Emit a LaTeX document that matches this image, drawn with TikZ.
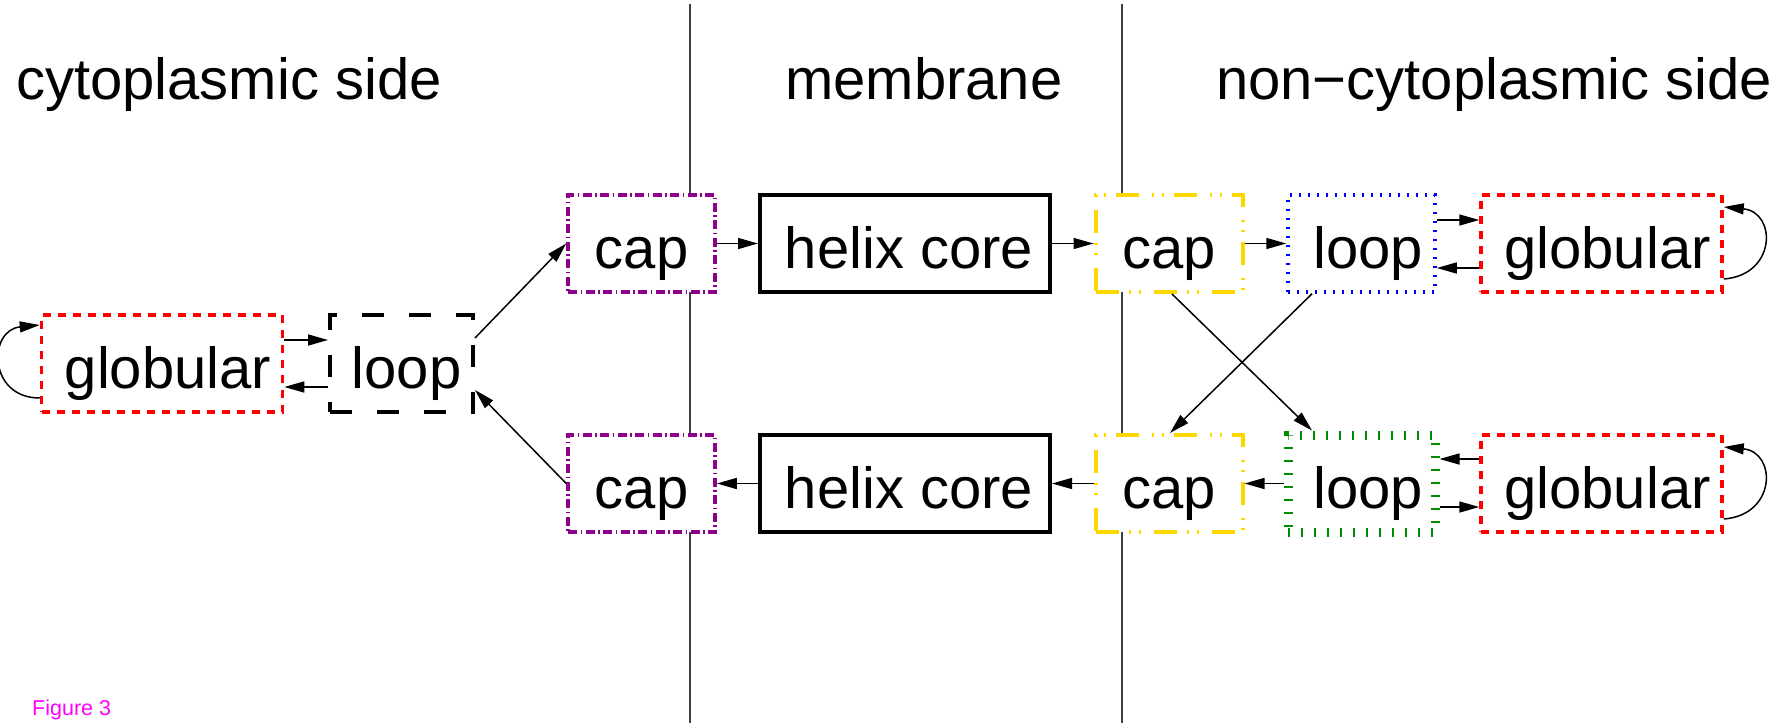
\documentclass[tikz,border=0pt]{standalone}
\usepackage{fontspec}
\setmainfont{Liberation Sans}
\usetikzlibrary{arrows.meta}
\definecolor{cpurple}{RGB}{140,0,140}
\definecolor{cgold}{RGB}{255,215,0}
\definecolor{cgreen}{RGB}{0,140,0}
\definecolor{cred}{RGB}{255,0,0}
\definecolor{cblue}{RGB}{0,0,255}
\definecolor{cmag}{RGB}{255,0,255}
\begin{document}
\begin{tikzpicture}[x=1pt,y=-1pt,
  bigfont/.style={font=\fontsize{58pt}{62pt}\selectfont},
  box/.style={rectangle, fill=white, inner sep=0pt, minimum height=97pt,
    text height=50pt, text depth=0pt, bigfont},
  smallbox/.style={box, minimum width=147pt},
  globbox/.style={box, minimum width=241pt, draw=cred, line width=3.5pt,
    dash pattern=on 8pt off 7pt},
  blackloop/.style={smallbox, minimum width=143pt, draw=black, line width=4pt,
    dash pattern=on 22pt off 25pt},
  purplecap/.style={smallbox, draw=cpurple, line width=3.5pt,
    dash pattern=on 9pt off 3.5pt on 1.5pt off 3.5pt},
  goldcap/.style={smallbox, draw=cgold, line width=4pt,
    dash pattern=on 23pt off 10pt on 2pt off 8pt on 2pt off 13pt},
  blueloop/.style={smallbox, draw=cblue, line width=3.5pt,
    dash pattern=on 2pt off 7pt},
  greenloop/.style={smallbox, draw=cgreen, line width=9pt,
    dash pattern=on 2pt off 11pt},
  helixbox/.style={box, minimum width=290pt, draw=black, line width=4pt},
  header/.style={anchor=base west, inner sep=0pt, bigfont},
  memline/.style={line width=1.5pt, black!75},
  arr/.style={line width=1.5pt, black, -{Triangle[length=20pt,width=11pt]}}
]
\useasboundingbox (0,0) rectangle (1779,726);

% membrane boundaries
\coordinate (m1t) at (690,4);
\coordinate (m1b) at (690,723);
\coordinate (m2t) at (1122,4);
\coordinate (m2b) at (1122,723);
\draw[memline] (m1t) -- (m1b);
\draw[memline] (m2t) -- (m2b);

% headers
\node[header] (h1) at (16,99) {cytoplasmic side};
\node[header] (h2) at (785,99) {membrane};
\node[header] (h3) at (1216,99) {non\symbol{"2212}cytoplasmic side};

% left side
\node[globbox] (lg) at (162,363.5) {\hspace{12pt}globular};
\node[blackloop] (ll) at (401.5,363.5) {\hspace{10pt}loop};

% top row
\node[purplecap] (tc1) at (641.5,243.5) {cap};
\node[helixbox] (th) at (905,243.5) {\hspace{8pt}helix core};
\node[goldcap] (tc2) at (1169,243.5) {cap};
\node[blueloop] (tl) at (1361.5,243.5) {\hspace{13pt}loop};
\node[globbox] (tg) at (1601.5,243.5) {\hspace{12pt}globular};

% bottom row
\node[purplecap] (bc1) at (641.5,483.5) {cap};
\node[helixbox] (bh) at (905,483.5) {\hspace{8pt}helix core};
\node[goldcap] (bc2) at (1169,483.5) {cap};
\node[greenloop] (bl) at (1361.5,483.5) {\hspace{13pt}loop};
\node[globbox] (bg) at (1601.5,483.5) {\hspace{12pt}globular};

% left connectors
\draw[arr] ([yshift=-34.5pt]lg.west) .. controls +(-52,0) and +(-52,5) .. ([yshift=38.5pt]lg.west);
\draw[arr] ([yshift=23.5pt]lg.east) -- ([yshift=23.5pt]ll.west);
\draw[arr] ([yshift=-23.5pt]ll.west) -- ([yshift=-23.5pt]lg.east);
\draw[arr] ([yshift=25.5pt]ll.east) -- (tc1.west);
\draw[arr] (bc1.west) -- ([yshift=-26.5pt]ll.east);

% top row connectors
\draw[arr] (tc1.east) -- (th.west);
\draw[arr] (th.east) -- (tc2.west);
\draw[arr] (tc2.east) -- (tl.west);
\draw[arr] ([yshift=23.5pt]tl.east) -- ([yshift=23.5pt]tg.west);
\draw[arr] ([yshift=-24.5pt]tg.west) -- ([yshift=-24.5pt]tl.east);
\draw[arr] ([yshift=-35.5pt]tg.east) .. controls +(53,-4) and +(53,5) .. ([yshift=36.5pt]tg.east);

% crossing connectors
\draw[arr] ([xshift=3pt]tc2.south) -- ([xshift=-49.5pt]bl.north);
\draw[arr] ([xshift=-49.5pt]tl.south) -- ([xshift=1pt]bc2.north);

% bottom row connectors
\draw[arr] (bl.west) -- (bc2.east);
\draw[arr] (bc2.west) -- (bh.east);
\draw[arr] (bh.west) -- (bc1.east);
\draw[arr] ([yshift=24.5pt]bg.west) -- ([yshift=24.5pt]bl.east);
\draw[arr] ([yshift=-23.5pt]bl.east) -- ([yshift=-23.5pt]bg.west);
\draw[arr] ([yshift=-35.5pt]bg.east) .. controls +(53,-4) and +(53,5) .. ([yshift=36.5pt]bg.east);

% figure label
\node[anchor=base west, inner sep=0pt, text=cmag, font=\fontsize{21.5pt}{24pt}\selectfont] (fig) at (32,715) {Figure 3};
\end{tikzpicture}
\end{document}
